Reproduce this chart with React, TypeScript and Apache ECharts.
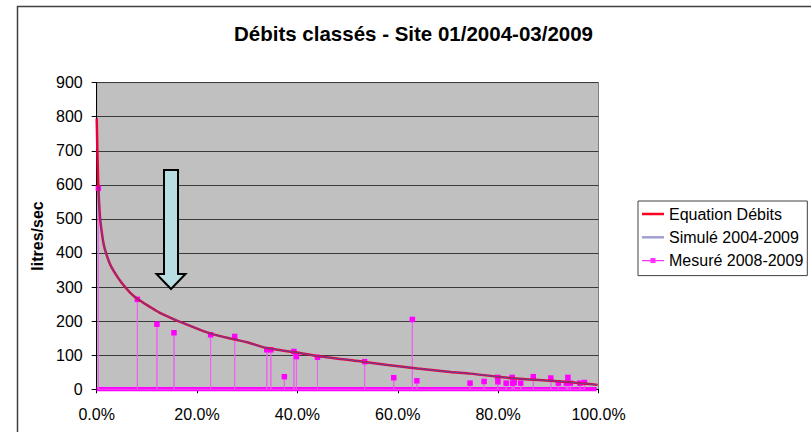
import React, { useEffect, useRef } from "react";
import * as echarts from "echarts";

const title = "Débits classés - Site 01/2004-03/2009";
const yAxisName = "litres/sec";
const seriesNames = ["Equation Débits", "Simulé 2004-2009", "Mesuré 2008-2009"];

// Equation curve, x in fraction of time, y in litres/sec
const equationX = [0, 0.0015, 0.0033, 0.0066, 0.01, 0.014, 0.0185, 0.025, 0.03, 0.04, 0.05, 0.0665, 0.081, 0.106, 0.125, 0.153, 0.18, 0.226, 0.276, 0.3, 0.339, 0.399, 0.446, 0.5, 0.534, 0.58, 0.639, 0.705, 0.745, 0.805, 0.85, 0.905, 0.95, 0.998];
const equationY = [795, 690, 595, 505, 462, 425, 400, 373, 357, 333, 312, 284, 266, 242, 225, 206, 190, 164, 146, 138, 121, 108, 96, 87, 80, 71, 61, 51, 46, 36, 30, 25, 20, 13];

// Simulated curve (starts slightly after 0)
const simX = [0.0033, 0.0066, 0.01, 0.014, 0.0185, 0.025, 0.03, 0.04, 0.05, 0.0665, 0.081, 0.106, 0.125, 0.153, 0.18, 0.226, 0.276, 0.3, 0.339, 0.399, 0.446, 0.5, 0.534, 0.58, 0.639, 0.705, 0.745, 0.805, 0.85, 0.905, 0.95, 0.998];
const simY = [595, 505, 462, 425, 400, 373, 357, 333, 312, 284, 266, 242, 225, 206, 190, 164, 146, 138, 121, 108, 96, 87, 80, 71, 61, 51, 46, 36, 30, 25, 20, 13];

// Measured points
const measuredX = [0.0033, 0.081, 0.12, 0.154, 0.227, 0.275, 0.339, 0.347, 0.374, 0.393, 0.398, 0.44, 0.534, 0.592, 0.629, 0.638, 0.744, 0.772, 0.799, 0.7995, 0.816, 0.828, 0.829, 0.832, 0.845, 0.87, 0.905, 0.92, 0.936, 0.939, 0.944, 0.963, 0.972];
const measuredY = [590, 264, 191, 166, 160, 155, 116, 116, 37, 111, 96, 94, 81, 34, 205, 25, 18, 23, 35, 22, 18, 35, 18, 20, 18, 37, 33, 18, 18, 35, 18, 18, 20];
// extent of the zero measurements along the baseline
const measuredZeroX = [0, 0.996];

const xTicks = [0, 0.2, 0.4, 0.6, 0.8, 1];

export default function App() {
  const ref = useRef<HTMLDivElement>(null);
  useEffect(() => {
    if (!ref.current) return;
    const chart = echarts.init(ref.current, undefined, { renderer: "svg" });
    const font = "Liberation Sans";

    const eqData = equationX.map((x, i) => [x, equationY[i]]);
    const simData = simX.map((x, i) => [x, simY[i]]);
    const measData: number[][] = [];
    measuredX.forEach((x, i) => {
      measData.push([x, 0]);
      measData.push([x, measuredY[i]]);
      measData.push([x, 0]);
    });
    const zeroData = measuredZeroX.map((x) => [x, 0]);

    chart.setOption({
      animation: false,
      backgroundColor: "#ffffff",
      title: {
        text: title,
        left: 234,
        top: 23,
        padding: 0,
        textStyle: { fontFamily: font, fontSize: 20.5, fontWeight: "bold", color: "#000" },
      },
      legend: {
        orient: "vertical",
        left: 638,
        top: 201,
        width: 171,
        padding: [5, 4, 7, 4],
        itemWidth: 22,
        itemHeight: 14,
        itemGap: 7.3,
        itemTextGap: 5,
        borderColor: "#404040",
        borderWidth: 1,
        backgroundColor: "#ffffff",
        symbolKeepAspect: true,
        data: [
          { name: seriesNames[0], icon: "path://M0,0 L22,0 L22,2.5 L0,2.5 Z", itemStyle: { color: "#ff0020" } },
          { name: seriesNames[1], icon: "path://M0,0 L22,0 L22,2.5 L0,2.5 Z", itemStyle: { color: "#a09fd0" } },
          { name: seriesNames[2], icon: "path://M0,2.3 L22,2.3 L22,3.7 L0,3.7 Z M8.5,0.5 L13.5,0.5 L13.5,5.5 L8.5,5.5 Z", itemStyle: { color: "#ff30ff" } },
        ],
        textStyle: { fontFamily: font, fontSize: 16, color: "#000" },
      },
      grid: {
        left: 96.7,
        right: 212.5,
        top: 82.6,
        bottom: 42.7,
        show: true,
        backgroundColor: "#c0c0c0",
        borderColor: "#808080",
        borderWidth: 1,
      },
      xAxis: {
        type: "value",
        min: 0,
        max: 1,
        interval: 0.2,
        axisLine: { show: true, lineStyle: { color: "#000", width: 1 } },
        axisTick: { show: true, length: 4, lineStyle: { color: "#000" } },
        splitLine: { show: false },
        axisLabel: {
          margin: 17,
          fontFamily: font,
          fontSize: 16,
          color: "#000",
          formatter: (v: number) => (v * 100).toFixed(1) + "%",
          customValues: xTicks,
        },
      },
      yAxis: {
        type: "value",
        min: 0,
        max: 900,
        interval: 100,
        name: yAxisName,
        nameLocation: "middle",
        nameRotate: 90,
        nameGap: 50,
        nameTextStyle: { fontFamily: font, fontSize: 16, fontWeight: "bold", color: "#000" },
        axisLine: { show: true, lineStyle: { color: "#000", width: 1 } },
        axisTick: { show: true, length: 5, lineStyle: { color: "#000" } },
        splitLine: { show: true, lineStyle: { color: "#3a3a3a", width: 1 } },
        axisLabel: { margin: 14, fontFamily: font, fontSize: 16, color: "#000" },
      },
      series: [
        {
          name: "baseline",
          type: "line",
          data: zeroData,
          symbol: "none",
          silent: true,
          lineStyle: { color: "#ff00ff", width: 4.5 },
          itemStyle: { color: "#ff00ff" },
          z: 2,
        },
        {
          name: seriesNames[2],
          type: "line",
          data: measData,
          symbol: "rect",
          symbolSize: (val: number[]) => (val[1] === 0 ? 0 : 5.5),
          showAllSymbol: true,
          lineStyle: { color: "#f060f0", width: 1 },
          itemStyle: { color: "#ff00ff", borderWidth: 0 },
          z: 3,
        },
        {
          name: seriesNames[0],
          type: "line",
          data: eqData,
          symbol: "none",
          smooth: 0.3,
          lineStyle: { color: "#e8003a", width: 2.5 },
          itemStyle: { color: "#ff0020" },
          z: 4,
        },
        {
          name: seriesNames[1],
          type: "line",
          data: simData,
          symbol: "none",
          smooth: 0.3,
          lineStyle: { color: "#5a4aa0", width: 1 },
          itemStyle: { color: "#a09fd0" },
          z: 5,
        },
      ],
      graphic: [
        {
          type: "rect",
          shape: { x: 17.5, y: 6.5, width: 900, height: 500 },
          style: { fill: "none", stroke: "#404040", lineWidth: 1.5 },
          silent: true,
          z: 100,
        },
        {
          type: "polygon",
          shape: {
            points: [
              [164, 170],
              [178, 170],
              [178, 274],
              [185.5, 274],
              [171, 289],
              [156.5, 274],
              [164, 274],
            ],
          },
          style: { fill: "#b9dee2", stroke: "#000", lineWidth: 2 },
          z: 100,
        },
      ],
    });
    return () => chart.dispose();
  }, []);
  return (
    <div
      ref={ref}
      style={{ position: "absolute", left: 0, top: 0, width: 811, height: 432 }}
    />
  );
}
